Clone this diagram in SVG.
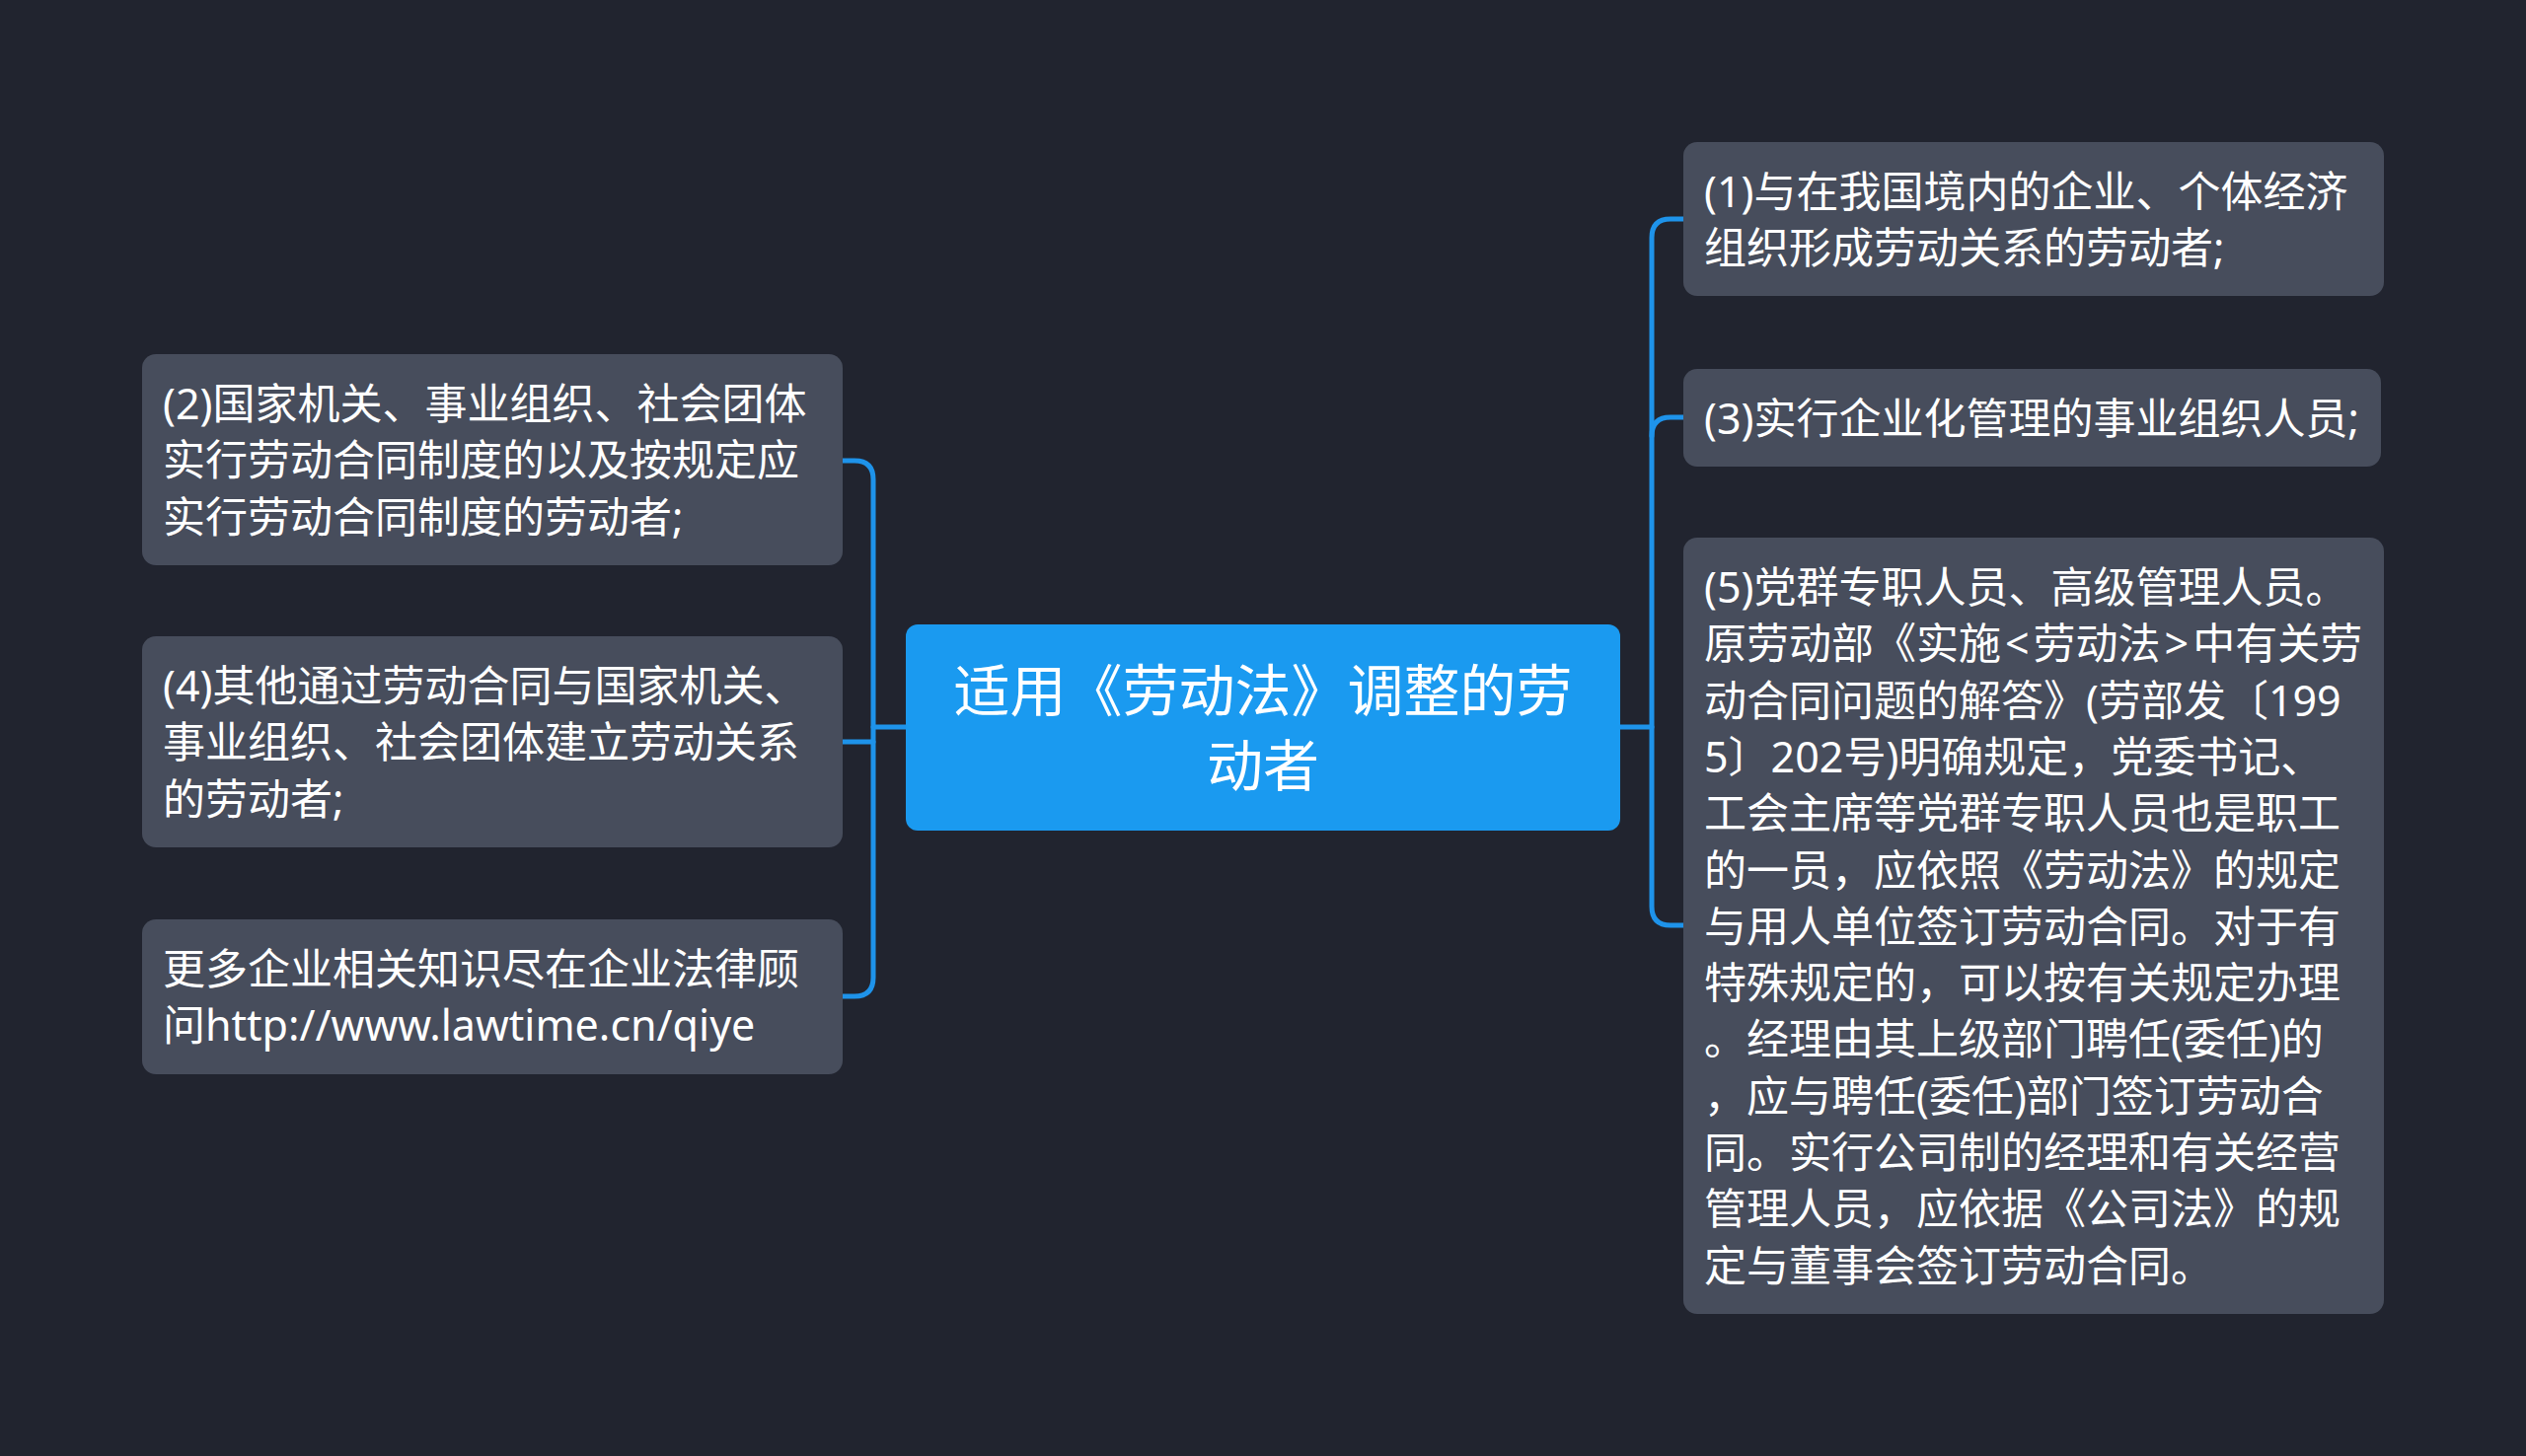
<svg xmlns="http://www.w3.org/2000/svg" width="2560" height="1476" viewBox="0 0 2560 1476">
<style>
.bg{fill:#21242f}
.node{fill:#474d5c}
.root{fill:#1a9af0}
.t{font-family:"Noto Sans","Noto Sans CJK SC",sans-serif;font-size:43px;fill:#ffffff}
.rt{font-family:"Noto Sans","Noto Sans CJK SC",sans-serif;font-size:57px;fill:#ffffff;text-anchor:middle}
.c{fill:none;stroke:#1e93ea;stroke-width:5;stroke-linecap:round;stroke-linejoin:round}
</style>
<rect class="bg" x="0" y="0" width="2560" height="1476"/>
<g id="connectors">
<path class="c" d="M854,467 H866 Q885,467 885,486 V991 Q885,1010 866,1010 H854"/>
<path class="c" d="M854,752 H885"/>
<path class="c" d="M885,737 H918"/>
<path class="c" d="M1642,737 H1674"/>
<path class="c" d="M1706,222 H1693 Q1674,222 1674,241 V919 Q1674,938 1693,938 H1706"/>
<path class="c" d="M1674,442 Q1674,423 1693,423 H1706"/>
</g>
<g id="root">
<rect class="root" x="918" y="633" width="724" height="209" rx="12"/>
<text class="rt" x="1280" y="721">适用《劳动法》调整的劳</text>
<text class="rt" x="1280" y="797">动者</text>
</g>
<g id="n1">
<rect class="node" x="1706" y="144" width="710" height="156" rx="14"/>
<text class="t" x="1727" y="210">(1)与在我国境内的企业、个体经济</text>
<text class="t" x="1727" y="267">组织形成劳动关系的劳动者;</text>
</g>
<g id="n3">
<rect class="node" x="1706" y="374" width="707" height="99" rx="14"/>
<text class="t" x="1727" y="440">(3)实行企业化管理的事业组织人员;</text>
</g>
<g id="n5">
<rect class="node" x="1706" y="545" width="710" height="787" rx="14"/>
<text class="t" x="1727" y="611">(5)党群专职人员、高级管理人员。</text>
<text class="t" x="1727" y="668.3">原劳动部《实施<tspan dx="4">&lt;</tspan><tspan dx="4">劳动法</tspan><tspan dx="4">&gt;</tspan><tspan dx="4">中有关劳</tspan></text>
<text class="t" x="1727" y="725.6">动合同问题的解答》(劳部发〔199</text>
<text class="t" x="1727" y="782.9">5〕202号)明确规定，党委书记、</text>
<text class="t" x="1727" y="840.2">工会主席等党群专职人员也是职工</text>
<text class="t" x="1727" y="897.5">的一员，应依照《劳动法》的规定</text>
<text class="t" x="1727" y="954.8">与用人单位签订劳动合同。对于有</text>
<text class="t" x="1727" y="1012.1">特殊规定的，可以按有关规定办理</text>
<text class="t" x="1727" y="1069.4">。经理由其上级部门聘任(委任)的</text>
<text class="t" x="1727" y="1126.7">，应与聘任(委任)部门签订劳动合</text>
<text class="t" x="1727" y="1184">同。实行公司制的经理和有关经营</text>
<text class="t" x="1727" y="1241.3">管理人员，应依据《公司法》的规</text>
<text class="t" x="1727" y="1298.6">定与董事会签订劳动合同。</text>
</g>
<g id="n2">
<rect class="node" x="144" y="359" width="710" height="214" rx="14"/>
<text class="t" x="165" y="425">(2)国家机关、事业组织、社会团体</text>
<text class="t" x="165" y="482.3">实行劳动合同制度的以及按规定应</text>
<text class="t" x="165" y="539.6">实行劳动合同制度的劳动者;</text>
</g>
<g id="n4">
<rect class="node" x="144" y="645" width="710" height="214" rx="14"/>
<text class="t" x="165" y="711">(4)其他通过劳动合同与国家机关、</text>
<text class="t" x="165" y="768.3">事业组织、社会团体建立劳动关系</text>
<text class="t" x="165" y="825.6">的劳动者;</text>
</g>
<g id="n6">
<rect class="node" x="144" y="932" width="710" height="157" rx="14"/>
<text class="t" x="165" y="998">更多企业相关知识尽在企业法律顾</text>
<text class="t" x="165" y="1055.3">问http://www.lawtime.cn/qiye</text>
</g>
</svg>
